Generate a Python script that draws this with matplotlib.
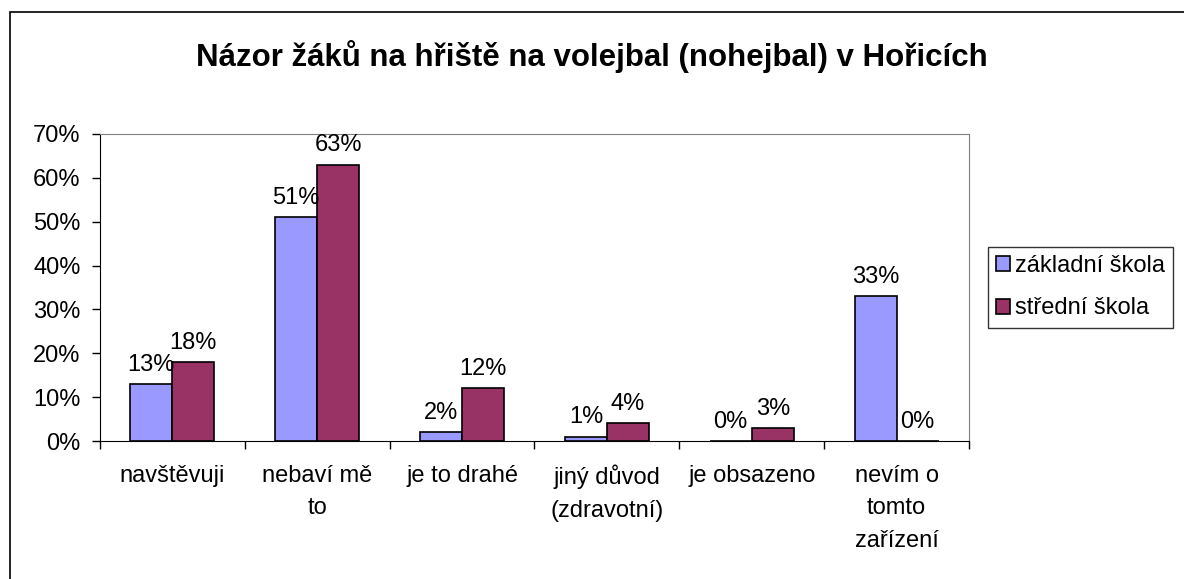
import numpy as np
import matplotlib.pyplot as plt
from matplotlib.patches import Rectangle

plt.rcParams['font.family'] = ['Liberation Sans', 'DejaVu Sans']

# Data
categories = ['navštěvuji', 'nebaví mě\nto', 'je to drahé', 'jiný důvod\n(zdravotní)',
              'je obsazeno', 'nevím o\ntomto\nzařízení']
zakladni = [0.13, 0.51, 0.02, 0.01, 0.00, 0.33]
stredni = [0.18, 0.63, 0.12, 0.04, 0.03, 0.00]
series_names = ['základní škola', 'střední škola']
title = 'Názor žáků na hřiště na volejbal (nohejbal) v Hořicích'

fs = 17

fig = plt.figure(figsize=(11.84, 5.79), dpi=100)
# outer chart border
fig.patches.append(Rectangle((10 / 1184, -0.1), 1.2, 1 - 12 / 579 + 0.1,
                             transform=fig.transFigure, fill=False,
                             edgecolor='black', linewidth=1.2))

ax = fig.add_axes([100 / 1184, 1 - 441 / 579, 869 / 1184, 307 / 579])
x = np.arange(len(categories))
w = 0.29
b1 = ax.bar(x - w / 2, zakladni, w, color='#9999FF', edgecolor='black', linewidth=1.2,
            label=series_names[0])
b2 = ax.bar(x + w / 2, stredni, w, color='#993366', edgecolor='black', linewidth=1.2,
            label=series_names[1])

for bars in (b1, b2):
    for rect in bars:
        v = rect.get_height()
        ax.annotate(f'{v * 100:.0f}%', (rect.get_x() + rect.get_width() / 2, v),
                    xytext=(0, 6), textcoords='offset points',
                    ha='center', va='bottom', fontsize=fs)

ax.set_xlim(-0.5, len(categories) - 0.5)
ax.set_ylim(0, 0.7)
ax.set_yticks(np.arange(0, 0.71, 0.1))
ax.set_yticklabels([f'{int(round(t * 100))}%' for t in np.arange(0, 0.71, 0.1)], fontsize=fs)
ax.set_xticks(np.arange(-0.5, len(categories)), minor=False)
ax.set_xticklabels([])
ax.set_xticks(x, minor=True)
ax.set_xticklabels(categories, minor=True, fontsize=fs, linespacing=1.62, va='top')
ax.tick_params(axis='x', which='minor', length=0, pad=17)
ax.tick_params(axis='x', which='major', length=6, width=1, direction='out')
ax.tick_params(axis='y', length=6, width=1, direction='out', pad=8)

for s in ['top', 'right']:
    ax.spines[s].set_color('#808080')
for s in ['left', 'bottom']:
    ax.spines[s].set_color('black')

fig.text(0.5, 1 - 57 / 579, title, ha='center', va='center', fontsize=22.5, fontweight='bold')

leg = fig.legend(handles=[b1, b2], labels=series_names, loc='upper left',
                 bbox_to_anchor=(988 / 1184, 1 - 247 / 579), fontsize=fs,
                 frameon=True, fancybox=False, edgecolor='black', handlelength=0.6,
                 handleheight=0.6, handletextpad=0.2, borderpad=0.35, labelspacing=0.85,
                 borderaxespad=0)
leg.get_frame().set_linewidth(1.0)

fig.savefig('out.png', dpi=100)
